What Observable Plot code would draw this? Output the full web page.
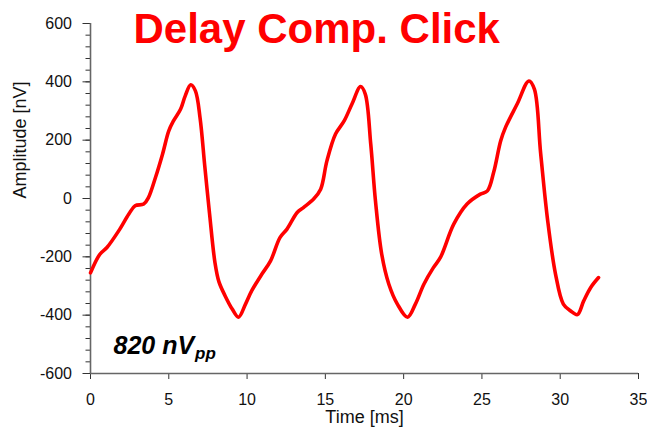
<!DOCTYPE html>
<html>
<head>
<meta charset="utf-8">
<script src="https://cdn.jsdelivr.net/npm/d3@7"></script>
<script src="https://cdn.jsdelivr.net/npm/@observablehq/plot@0.6"></script>
<style>
  html, body { margin: 0; padding: 0; background: #fff; }
  #chart { width: 647px; height: 427px; }
</style>
</head>
<body>
<div id="chart"></div>
<script>
// Averaged response to the delay-compensated click stimulus
const timeMs = [0, 0.6, 1.05, 1.8, 2.45, 2.85, 3.4, 3.7, 4.15, 4.6, 5.0, 5.3, 5.75, 6.05, 6.4, 6.7, 7.0, 7.3, 7.6, 7.95, 8.2, 8.6, 9.05, 9.45, 9.9, 10.3, 10.95, 11.5, 12.1, 12.55, 13.2, 13.6, 14.25, 14.7, 15.1, 15.65, 16.2, 16.7, 17.25, 17.55, 17.9, 18.2, 18.6, 19.05, 19.6, 20.25, 20.75, 21.3, 21.9, 22.35, 23.2, 24.05, 24.9, 25.35, 25.75, 26.2, 26.5, 27.25, 28.0, 28.35, 28.75, 29.2, 29.7, 30.2, 30.65, 31.1, 31.5, 31.95, 32.45];
const amplitudeNv = [-255, -191, -168, -111, -53, -25, -19, 3, 72, 152, 232, 266, 306, 352, 390, 369, 275, 110, -50, -220, -285, -334, -379, -407, -362, -316, -259, -214, -134, -105, -48, -31, -2, 32, 129, 221, 266, 324, 384, 358, 186, -8, -191, -293, -362, -407, -362, -293, -237, -202, -88, -19, 15, 26, 90, 198, 243, 324, 403, 375, 155, -76, -259, -362, -385, -398, -351, -305, -271];

const xTicks = [0, 5, 10, 15, 20, 25, 30, 35];
const yTicks = [-600, -400, -200, 0, 200, 400, 600];
const yMinorTicks = d3.range(-600, 601, 40);

const titleText = "Delay Comp. Click";
const ppValue = "820 nV";
const ppSub = "pp";
const xLabel = "Time [ms]";
const yLabel = "Amplitude [nV]";

const data = timeMs.map((t, i) => ({t, v: amplitudeNv[i]}));
const font = "'Liberation Sans', Arial, Helvetica, sans-serif";

const plot = Plot.plot({
  width: 647,
  height: 427,
  marginLeft: 90,
  marginRight: 9,
  marginTop: 23,
  marginBottom: 54,
  style: {fontFamily: font, fontSize: "16px", color: "#000", background: "#fff", overflow: "visible"},
  x: {domain: [0, 35]},
  y: {domain: [-600, 600]},
  marks: [
    // minor y ticks
    Plot.axisY({ticks: yMinorTicks, tickSize: 4.5, text: null, label: null, stroke: "#333"}),
    // major y ticks with labels
    Plot.axisY({ticks: yTicks, tickSize: 7.5, tickPadding: 11, label: null, stroke: "#333", fill: "#111", tickFormat: d => String(d)}),
    Plot.axisX({ticks: xTicks, tickSize: 6, tickPadding: 14, label: null, stroke: "#333", fill: "#111", tickFormat: d => String(d)}),
    // axis lines
    Plot.ruleX([0], {stroke: "#666", strokeWidth: 1.6}),
    Plot.ruleY([-600], {stroke: "#666", strokeWidth: 1.6}),
    // response waveform
    Plot.line(data, {x: "t", y: "v", stroke: "#ff0000", strokeWidth: 3.6, curve: "catmull-rom", strokeLinejoin: "round"}),
    // axis titles
    Plot.text([xLabel], {frameAnchor: "bottom", lineAnchor: "top", dy: 37, fontSize: 18, fill: "#111"}),
    Plot.text([yLabel], {frameAnchor: "left", lineAnchor: "top", rotate: -90, dx: -77, fontSize: 18, fill: "#111"}),
    // chart title
    Plot.text([titleText], {frameAnchor: "top-left", textAnchor: "start", lineAnchor: "top", dx: 43, dy: -10, fontSize: 42, fontWeight: "bold", fill: "#ff0000"}),
    // peak-to-peak annotation
    Plot.text([ppValue], {frameAnchor: "bottom-left", textAnchor: "start", lineAnchor: "top", dx: 23, dy: -37, fontSize: 25, fontWeight: "bold", fontStyle: "italic", fill: "#000"})
  ]
});

// subscript on the peak-to-peak annotation
d3.select(plot).selectAll("text")
  .filter(function () { return this.textContent === ppValue; })
  .each(function () {
    const el = d3.select(this);
    const base = el.text();
    el.text(null);
    el.append("tspan").text(base);
    el.append("tspan").attr("dx", 1).attr("dy", "0.3em").attr("font-size", 17).text(ppSub);
  });

document.getElementById("chart").appendChild(plot);
</script>
</body>
</html>
